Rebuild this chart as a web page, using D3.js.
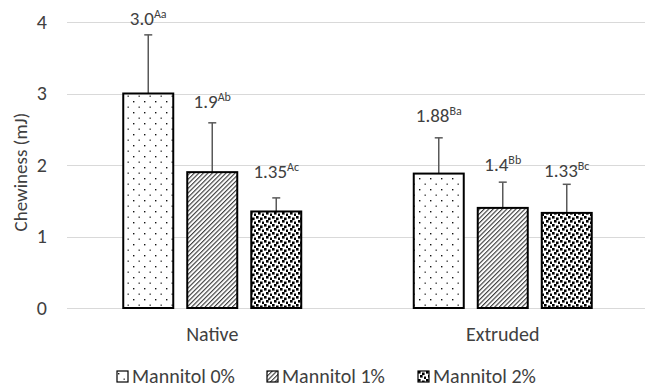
<!DOCTYPE html>
<html>
<head>
<meta charset="utf-8">
<script src="https://cdn.jsdelivr.net/npm/d3@7"></script>
<style>
  html, body { margin: 0; padding: 0; background: #fff; }
  svg { display: block; font-family: Carlito, Lato, "Open Sans", sans-serif; }
</style>
</head>
<body>
<svg id="chart" width="645" height="387"></svg>
<script>
// Chewiness of native and extruded samples at three mannitol levels
const categories = ["Native", "Extruded"];
const seriesNames = ["Mannitol 0%", "Mannitol 1%", "Mannitol 2%"];
const means = [
  [3.0, 1.9, 1.35],   // Native
  [1.88, 1.4, 1.33]   // Extruded
];
const errors = [
  [0.82, 0.69, 0.19],
  [0.50, 0.36, 0.40]
];
const valueText = [
  ["3.0", "1.9", "1.35"],
  ["1.88", "1.4", "1.33"]
];
const letters = [
  ["Aa", "Ab", "Ac"],
  ["Ba", "Bb", "Bc"]
];
const yTicks = [0, 1, 2, 3, 4];

// layout: how far each value label's baseline sits above its error cap
const labelLift = [[10, 15, 20], [16, 11, 7]];

const svg = d3.select("#chart");
const plot = { left: 67, right: 648, top: 22, bottom: 308 };

const x0 = d3.scaleBand().domain(categories).range([plot.left, plot.right]);
const barW = 50, barStep = 64;
const x1 = d3.scaleLinear().domain([0, seriesNames.length - 1])
  .range([-barStep, barStep]);
const y = d3.scaleLinear().domain([0, 4]).range([plot.bottom, plot.top]);

// fill patterns
const defs = svg.append("defs");
const p0 = defs.append("pattern").attr("id", "pat0")
  .attr("patternUnits", "userSpaceOnUse").attr("width", 11).attr("height", 11);
p0.append("rect").attr("width", 11).attr("height", 11).attr("fill", "#fff");
p0.append("rect").attr("x", 1).attr("y", 2).attr("width", 1.4).attr("height", 1.4).attr("fill", "#111");
p0.append("rect").attr("x", 6.5).attr("y", 7.5).attr("width", 1.4).attr("height", 1.4).attr("fill", "#444");

const p1 = defs.append("pattern").attr("id", "pat1")
  .attr("patternUnits", "userSpaceOnUse").attr("width", 3.2).attr("height", 3.2)
  .attr("patternTransform", "rotate(45)");
p1.append("rect").attr("width", 3.2).attr("height", 3.2).attr("fill", "#fff");
p1.append("line").attr("x1", 0.6).attr("y1", 0).attr("x2", 0.6).attr("y2", 3.2)
  .attr("stroke", "#222").attr("stroke-width", 1.0);

const p2 = defs.append("pattern").attr("id", "pat2")
  .attr("patternUnits", "userSpaceOnUse").attr("width", 8).attr("height", 8);
p2.append("rect").attr("width", 8).attr("height", 8).attr("fill", "#fff");
[[0, 0], [4, 1.5], [2, 4], [6, 5.5]].forEach(([px, py]) => {
  p2.append("rect").attr("x", px).attr("y", py).attr("width", 2.6).attr("height", 2.6).attr("fill", "#000");
});
const fills = ["url(#pat0)", "url(#pat1)", "url(#pat2)"];

// gridlines
svg.append("g").selectAll("line").data(yTicks).join("line")
  .attr("x1", plot.left).attr("x2", plot.right)
  .attr("y1", d => Math.round(y(d)) + 0.5).attr("y2", d => Math.round(y(d)) + 0.5)
  .attr("stroke", "#d9d9d9").attr("stroke-width", 1.2);

// y axis tick labels
const yAxis = d3.axisLeft(y).tickValues(yTicks).tickFormat(d3.format("d"))
  .tickSize(0).tickPadding(0);
svg.append("g").attr("transform", `translate(${plot.left - 20},0)`)
  .call(yAxis)
  .call(g => g.select(".domain").remove())
  .call(g => g.selectAll("text").attr("font-size", 20).attr("fill", "#404040")
    .attr("font-family", "Carlito, Lato, sans-serif"));

// y axis title
svg.append("text")
  .attr("transform", "translate(27,172) rotate(-90)")
  .attr("text-anchor", "middle").attr("font-size", 19).attr("fill", "#404040")
  .text("Chewiness (mJ)");

// bars, error bars, labels
const rows = [];
categories.forEach((c, ci) => seriesNames.forEach((s, si) => rows.push({
  c, ci, si, v: means[ci][si], e: errors[ci][si],
  t: valueText[ci][si], l: letters[ci][si], lift: labelLift[ci][si]
})));
const cx = d => x0(d.c) + x0.bandwidth() / 2 + x1(d.si);

const g = svg.append("g");
g.selectAll("line.err").data(rows).join("line").attr("class", "err")
  .attr("x1", cx).attr("x2", cx)
  .attr("y1", d => y(d.v)).attr("y2", d => y(d.v + d.e))
  .attr("stroke", "#595959").attr("stroke-width", 1.5);
g.selectAll("line.cap").data(rows).join("line").attr("class", "cap")
  .attr("x1", d => cx(d) - 4).attr("x2", d => cx(d) + 4)
  .attr("y1", d => y(d.v + d.e)).attr("y2", d => y(d.v + d.e))
  .attr("stroke", "#595959").attr("stroke-width", 1.5);

g.selectAll("rect.bar").data(rows).join("rect").attr("class", "bar")
  .attr("x", d => cx(d) - barW / 2).attr("width", barW)
  .attr("y", d => y(d.v)).attr("height", d => y(0) - y(d.v))
  .attr("fill", d => fills[d.si]).attr("stroke", "#000").attr("stroke-width", 2);

const lbl = g.selectAll("text.val").data(rows).join("text").attr("class", "val")
  .attr("x", cx).attr("y", d => y(d.v + d.e) - d.lift)
  .attr("text-anchor", "middle").attr("fill", "#404040");
lbl.append("tspan").attr("font-size", 19).text(d => d.t);
lbl.append("tspan").attr("font-size", 12).attr("dy", -7).text(d => d.l);

// category labels
svg.append("g").selectAll("text").data(categories).join("text")
  .attr("x", d => x0(d) + x0.bandwidth() / 2).attr("y", 341)
  .attr("text-anchor", "middle").attr("font-size", 20).attr("fill", "#404040")
  .text(d => d);

// legend
const legX = [117, 267, 418];
const leg = svg.append("g").selectAll("g").data(seriesNames).join("g")
  .attr("transform", (d, i) => `translate(${legX[i]},371)`);
leg.append("rect").attr("width", 11).attr("height", 11)
  .attr("fill", (d, i) => fills[i]).attr("stroke", "#000").attr("stroke-width", 1.2);
leg.append("text").attr("x", 15).attr("y", 12)
  .attr("font-size", 20).attr("fill", "#404040").text(d => d);
</script>
</body>
</html>
